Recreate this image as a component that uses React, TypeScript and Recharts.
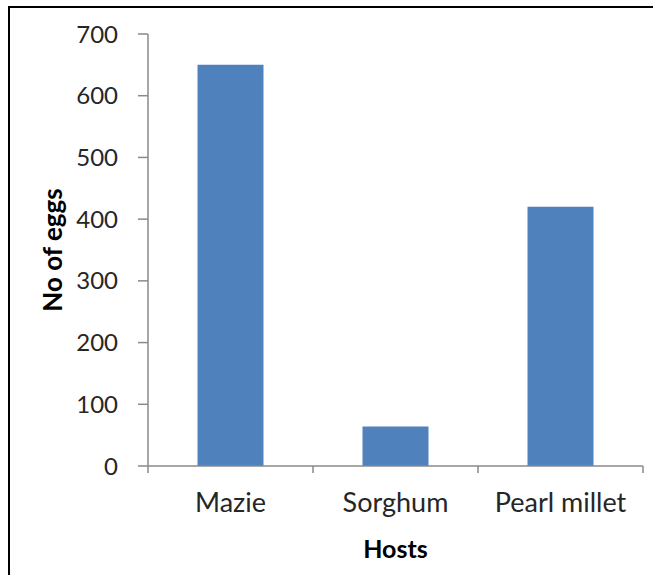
import React from 'react';
import { BarChart, Bar, XAxis, YAxis, Label } from 'recharts';

const hosts = ['Mazie', 'Sorghum', 'Pearl millet'];
const eggs = [650, 64, 420];
const yTicks = [0, 100, 200, 300, 400, 500, 600, 700];

const data = hosts.map((name, i) => ({ name, eggs: eggs[i] }));

const FONT = 'Lato, "Open Sans", sans-serif';
const AXIS_GREY = '#8a8a8a';

// category ticks sit between the bars, like Excel does
const HostTick = (props: any) => {
  const { x, y, payload, index, width } = props;
  const band = typeof width === 'number' ? width / hosts.length : 0;
  const left = x - band / 2;
  return (
    <g>
      <line x1={left} y1={y} x2={left} y2={y + 7} stroke={AXIS_GREY} strokeWidth={1.5} />
      {index === hosts.length - 1 && (
        <line x1={left + band} y1={y} x2={left + band} y2={y + 7} stroke={AXIS_GREY} strokeWidth={1.5} />
      )}
      <text x={x} y={y + 46} textAnchor="middle" fill="#262626" fontSize={27} fontFamily={FONT}>
        {payload.value}
      </text>
    </g>
  );
};

const YTitle = (props: any) => {
  const { viewBox } = props;
  const cx = viewBox.x + 52;
  const cy = viewBox.y + viewBox.height / 2;
  return (
    <text
      x={cx}
      y={cy}
      transform={`rotate(-90, ${cx}, ${cy})`}
      textAnchor="middle"
      dominantBaseline="central"
      fontSize={26}
      fontWeight="bold"
      fill="#000"
      fontFamily={FONT}
    >
      No of eggs
    </text>
  );
};

const XTitle = (props: any) => {
  const { viewBox } = props;
  const cx = viewBox.x + viewBox.width / 2;
  return (
    <text x={cx} y={558} textAnchor="middle" fontSize={25} fontWeight="bold" fill="#000" fontFamily={FONT}>
      Hosts
    </text>
  );
};

export default function App() {
  return (
    <div style={{ position: 'absolute', left: 0, top: 0, width: 653, height: 575, background: '#fff' }}>
      <div
        style={{
          position: 'absolute',
          left: 8,
          top: 6,
          width: 645,
          height: 569,
          borderTop: '2px solid #000',
          borderLeft: '2px solid #000',
          boxSizing: 'border-box',
        }}
      />
      <BarChart
        width={653}
        height={575}
        data={data}
        margin={{ top: 34, right: 10, left: 0, bottom: 69 }}
        barCategoryGap="30%"
        style={{ position: 'absolute', left: 0, top: 0 }}
      >
        <XAxis
          dataKey="name"
          height={40}
          tickSize={0}
          tickMargin={0}
          tickLine={false}
          axisLine={{ stroke: AXIS_GREY, strokeWidth: 1.5 }}
          tick={<HostTick />}
          interval={0}
        >
          <Label content={<XTitle />} />
        </XAxis>
        <YAxis
          width={148}
          domain={[0, 700]}
          ticks={yTicks}
          interval={0}
          tickSize={10}
          tickMargin={20}
          axisLine={{ stroke: AXIS_GREY, strokeWidth: 1.5 }}
          tickLine={{ stroke: AXIS_GREY, strokeWidth: 1.5 }}
          tick={{ fill: '#262626', fontSize: 24, fontFamily: FONT }}
        >
          <Label content={<YTitle />} />
        </YAxis>
        <Bar dataKey="eggs" fill="#4F81BD" isAnimationActive={false} />
      </BarChart>
    </div>
  );
}
